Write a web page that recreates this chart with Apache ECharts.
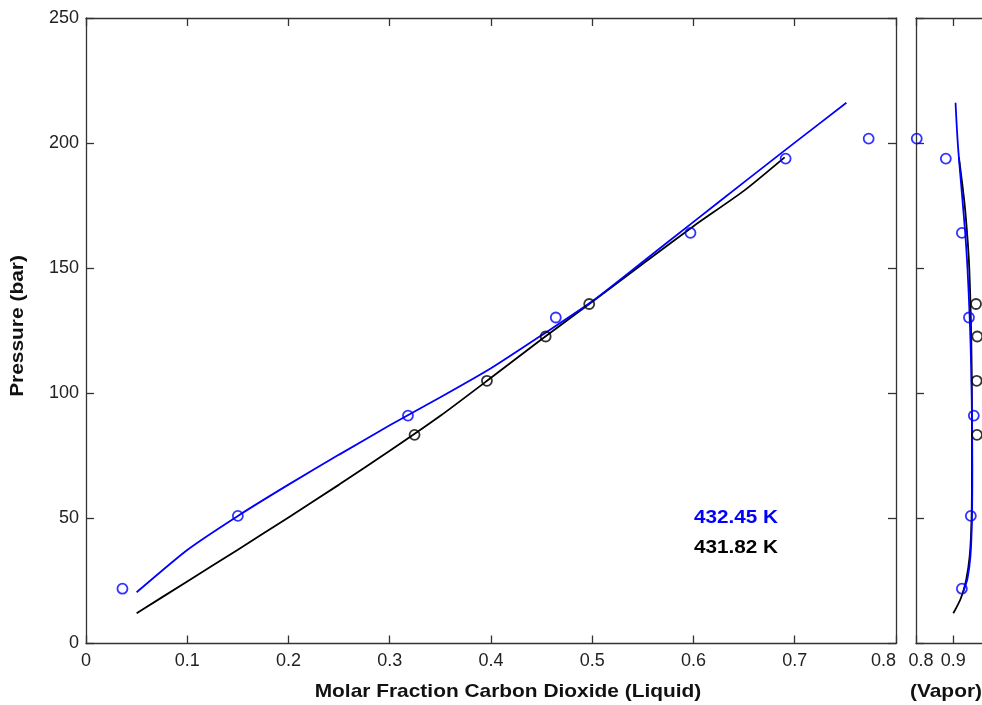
<!DOCTYPE html>
<html>
<head>
<meta charset="utf-8">
<script src="https://cdn.jsdelivr.net/npm/echarts@6/dist/echarts.min.js"></script>
<style>
html,body{margin:0;padding:0;background:#fff;}
#chart{width:982px;height:705px;}
</style>
</head>
<body>
<div id="chart"></div>
<script>
// ---- Data ----
// 432.45 K experimental points
const pressureBlue = [21.9, 51.0, 91.1, 130.3, 164.1, 193.8, 201.8];
const liquidBlue   = [0.036, 0.150, 0.318, 0.464, 0.597, 0.691, 0.773];
const vaporBlue    = [0.923, 0.947, 0.955, 0.942, 0.923, 0.880, 0.802];
// 431.82 K experimental points
const pressureBlack = [83.4, 105.0, 122.7, 135.7];
const liquidBlack   = [0.3245, 0.396, 0.454, 0.497];
const vaporBlack    = [0.9635, 0.9627, 0.9643, 0.9609];

// model curves (liquid side)
const modelLiqBlueX = [0.050, 0.100, 0.150, 0.200, 0.250, 0.300, 0.350, 0.400, 0.450, 0.500, 0.550, 0.600, 0.650, 0.700, 0.751];
const modelLiqBlueP = [20.5, 37.4, 51.0, 63.5, 75.5, 87.2, 98.4, 110.0, 123.2, 136.8, 152.6, 168.5, 184.4, 200.2, 216.1];
const modelLiqBlackX = [0.050, 0.100, 0.150, 0.200, 0.250, 0.300, 0.350, 0.400, 0.450, 0.500, 0.550, 0.600, 0.650, 0.690];
const modelLiqBlackP = [12.1, 24.8, 37.5, 50.4, 63.5, 77.0, 91.0, 106.2, 121.6, 136.6, 151.8, 166.8, 181.0, 194.3];
// model curves (vapor side)
const modelVapBlueP = [216.1, 200.0, 180.0, 164.0, 150.0, 130.0, 110.0, 91.0, 70.0, 50.0, 35.0, 26.0, 20.5];
const modelVapBlueX = [0.906, 0.912, 0.923, 0.932, 0.938, 0.944, 0.948, 0.950, 0.951, 0.950, 0.946, 0.938, 0.926];
const modelVapBlackP = [194.3, 176.0, 160.0, 149.4, 130.0, 113.0, 90.0, 70.0, 50.0, 35.0, 25.0, 18.0, 12.1];
const modelVapBlackX = [0.915, 0.930, 0.939, 0.943, 0.947, 0.949, 0.950, 0.950, 0.949, 0.944, 0.934, 0.920, 0.900];

const yTicks = [0, 50, 100, 150, 200, 250];
const liquidXTicks = ['0', '0.1', '0.2', '0.3', '0.4', '0.5', '0.6', '0.7', '0.8'];
const vaporXTicks = ['0.8', '0.9'];
const labelBlue = '432.45 K';
const labelBlack = '431.82 K';
const xTitle = 'Molar Fraction Carbon Dioxide (Liquid)';
const xTitle2 = '(Vapor)';
const yTitle = 'Pressure (bar)';

const BLUE = '#0000ff';
const BLACK = '#000000';
const AX = '#333333';
const FONT = 'Liberation Sans, Arial, sans-serif';

const zip = (xs, ys) => xs.map((x, i) => [x, ys[i]]);

const axisLine = { show: true, onZero: false, lineStyle: { color: AX, width: 1.3 } };
const axisTick = { show: true, inside: true, length: 8, lineStyle: { color: AX, width: 1.3 } };
const tickFont = { color: '#222', fontFamily: FONT, fontSize: 18 };

function fmtLiq(v) {
  const idx = Math.round(v * 10);
  return liquidXTicks[idx] !== undefined ? liquidXTicks[idx] : '';
}
function fmtVap(v) {
  const idx = Math.round(v * 10) - 8;
  if (idx === 0) return '{s|' + vaporXTicks[0] + '}';
  return vaporXTicks[idx] !== undefined ? vaporXTicks[idx] : '';
}

const chart = echarts.init(document.getElementById('chart'), null, { renderer: 'canvas' });

const gridH = 625.5;
const option = {
  animation: false,
  backgroundColor: '#fff',
  grid: [
    { left: 86, top: 18, width: 810, height: gridH, containLabel: false, outerBoundsMode: 'none' },
    { left: 916, top: 18, width: 74.6, height: gridH, containLabel: false, outerBoundsMode: 'none' }
  ],
  xAxis: [
    { type: 'value', gridIndex: 0, position: 'bottom', min: 0, max: 0.8, interval: 0.1,
      axisLine, axisTick, splitLine: { show: false },
      axisLabel: Object.assign({ formatter: fmtLiq, margin: 9, alignMaxLabel: 'right' }, tickFont) },
    { type: 'value', gridIndex: 0, position: 'top', min: 0, max: 0.8, interval: 0.1,
      axisLine, axisTick, splitLine: { show: false }, axisLabel: { show: false } },
    { type: 'value', gridIndex: 1, position: 'bottom', min: 0.8, max: 1.0, interval: 0.1,
      axisLine, axisTick, splitLine: { show: false },
      axisLabel: Object.assign({ formatter: fmtVap, margin: 9,
        rich: { s: Object.assign({ padding: [0, 0, 0, 10] }, tickFont) } }, tickFont) },
    { type: 'value', gridIndex: 1, position: 'top', min: 0.8, max: 1.0, interval: 0.1,
      axisLine, axisTick, splitLine: { show: false }, axisLabel: { show: false } }
  ],
  yAxis: [
    { type: 'value', gridIndex: 0, position: 'left', min: 0, max: 250, interval: 50,
      axisLine, axisTick, splitLine: { show: false },
      axisLabel: Object.assign({ formatter: v => yTicks.includes(v) ? String(v) : '', margin: 7 }, tickFont) },
    { type: 'value', gridIndex: 0, position: 'right', min: 0, max: 250, interval: 50,
      axisLine, axisTick, splitLine: { show: false }, axisLabel: { show: false } },
    { type: 'value', gridIndex: 1, position: 'left', min: 0, max: 250, interval: 50,
      axisLine, axisTick, splitLine: { show: false }, axisLabel: { show: false } },
    { type: 'value', gridIndex: 1, position: 'right', min: 0, max: 250, interval: 50,
      axisLine, axisTick, splitLine: { show: false }, axisLabel: { show: false } }
  ],
  series: [
    { type: 'line', xAxisIndex: 0, yAxisIndex: 0, data: zip(modelLiqBlackX, modelLiqBlackP),
      showSymbol: false, smooth: 0.2, lineStyle: { color: BLACK, width: 1.8 }, z: 2 },
    { type: 'line', xAxisIndex: 0, yAxisIndex: 0, data: zip(modelLiqBlueX, modelLiqBlueP),
      showSymbol: false, smooth: 0.2, lineStyle: { color: BLUE, width: 1.8 }, z: 3 },
    { type: 'line', xAxisIndex: 2, yAxisIndex: 2, data: zip(modelVapBlackX, modelVapBlackP),
      showSymbol: false, smooth: 0.3, lineStyle: { color: BLACK, width: 1.8 }, z: 2 },
    { type: 'line', xAxisIndex: 2, yAxisIndex: 2, data: zip(modelVapBlueX, modelVapBlueP),
      showSymbol: false, smooth: 0.3, lineStyle: { color: BLUE, width: 1.8 }, z: 3 },
    { type: 'scatter', xAxisIndex: 0, yAxisIndex: 0, data: zip(liquidBlue, pressureBlue),
      symbol: 'circle', symbolSize: 10,
      itemStyle: { color: 'rgba(0,0,0,0)', borderColor: BLUE, borderWidth: 1.8 }, z: 4 },
    { type: 'scatter', xAxisIndex: 0, yAxisIndex: 0, data: zip(liquidBlack, pressureBlack),
      symbol: 'circle', symbolSize: 10,
      itemStyle: { color: 'rgba(0,0,0,0)', borderColor: BLACK, borderWidth: 1.8 }, z: 4 },
    { type: 'scatter', xAxisIndex: 2, yAxisIndex: 2, data: zip(vaporBlue, pressureBlue),
      symbol: 'circle', symbolSize: 10,
      itemStyle: { color: 'rgba(0,0,0,0)', borderColor: BLUE, borderWidth: 1.8 }, z: 4 },
    { type: 'scatter', xAxisIndex: 2, yAxisIndex: 2, data: zip(vaporBlack, pressureBlack),
      symbol: 'circle', symbolSize: 10,
      itemStyle: { color: 'rgba(0,0,0,0)', borderColor: BLACK, borderWidth: 1.8 }, z: 4 }
  ],
  graphic: [
    { type: 'text', x: 508, y: 692, scaleX: 1.1,
      style: { text: xTitle, fill: '#111', font: 'bold 19px ' + FONT, textAlign: 'center', textVerticalAlign: 'middle' } },
    { type: 'text', x: 946, y: 692, scaleX: 1.1,
      style: { text: xTitle2, fill: '#111', font: 'bold 19px ' + FONT, textAlign: 'center', textVerticalAlign: 'middle' } },
    { type: 'text', x: 18, y: 326, rotation: Math.PI / 2, scaleX: 1.1,
      style: { text: yTitle, fill: '#111', font: 'bold 19px ' + FONT, textAlign: 'center', textVerticalAlign: 'middle' } },
    { type: 'text', x: 694, y: 518, scaleX: 1.15,
      style: { text: labelBlue, fill: BLUE, font: 'bold 18px ' + FONT, textAlign: 'left', textVerticalAlign: 'middle' } },
    { type: 'text', x: 694, y: 548, scaleX: 1.15,
      style: { text: labelBlack, fill: BLACK, font: 'bold 18px ' + FONT, textAlign: 'left', textVerticalAlign: 'middle' } }
  ]
};
chart.setOption(option);
</script>
</body>
</html>
